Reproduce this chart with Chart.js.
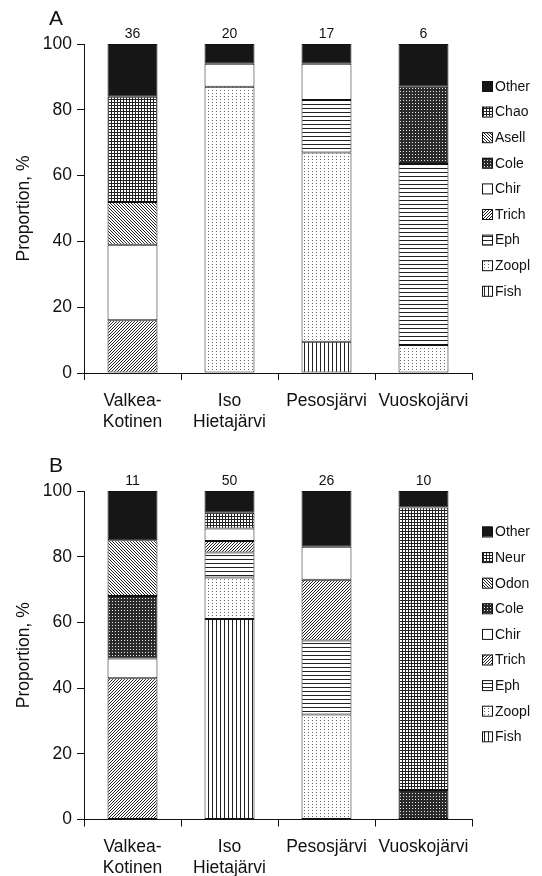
<!DOCTYPE html>
<html>
<head>
<meta charset="utf-8">
<script src="https://cdn.jsdelivr.net/npm/chart.js@4"></script>
<style>
html,body{margin:0;padding:0;background:#fff;}
#wrap{position:relative;width:542px;height:876px;}
canvas{position:absolute;left:0;}
#cA{top:0;}
#cB{top:447px;}
</style>
</head>
<body>
<div id="wrap">
<canvas id="cA" width="542" height="447"></canvas>
<canvas id="cB" width="542" height="429"></canvas>
</div>
<script>
// ---------- DATA ----------
const categoriesA = [["Valkea-","Kotinen"],["Iso","Hietajärvi"],"Pesosjärvi","Vuoskojärvi"];
const categoriesB = [["Valkea-","Kotinen"],["Iso","Hietajärvi"],"Pesosjärvi","Vuoskojärvi"];
const countsA = [36, 20, 17, 6];
const countsB = [11, 50, 26, 10];
const yTicks = [0, 20, 40, 60, 80, 100];

// Panel A (bottom to top of stack)
const seriesNamesA = ["Fish","Zoopl","Eph","Trich","Chir","Cole","Asell","Chao","Other"];
const fishA  = [0, 0, 9.5, 0];
const zooplA = [0, 87, 57.5, 8.5];
const ephA   = [0, 0, 16, 55];
const trichA = [16, 0, 0, 0];
const chirA  = [23, 7, 11, 0];
const coleA  = [0, 0, 0, 23.5];
const asellA = [13, 0, 0, 0];
const chaoA  = [32, 0, 0, 0];
const otherA = [16, 6, 6, 13];

// Panel B (bottom to top of stack)
const seriesNamesB = ["Fish","Zoopl","Eph","Trich","Chir","Cole","Odon","Neur","Other"];
const fishB  = [0, 61, 0, 0];
const zooplB = [0, 12.7, 32, 0];
const ephB   = [0, 7.6, 22.5, 0];
const trichB = [43, 3.5, 18.5, 0];
const chirB  = [6, 3.8, 10, 0];
const coleB  = [19, 0, 0, 9];
const odonB  = [17, 0, 0, 0];
const neurB  = [0, 4.8, 0, 86];
const otherB = [15, 6.6, 17, 5];

// ---------- PATTERNS ----------
function makePattern(w, h, draw, bg) {
  const c = document.createElement('canvas');
  c.width = w; c.height = h;
  const g = c.getContext('2d');
  g.fillStyle = bg || '#fff';
  g.fillRect(0, 0, w, h);
  g.fillStyle = '#222';
  draw(g);
  return g.createPattern(c, 'repeat');
}
const pat = {
  solid: '#161616',
  white: '#ffffff',
  grid: makePattern(3, 3, g => { g.fillRect(0, 0, 3, 1); g.fillRect(0, 0, 1, 3); }),
  back: makePattern(3, 3, g => { for (let i = 0; i < 3; i++) g.fillRect(i, i, 1, 1); }),
  fwd: makePattern(3, 3, g => { for (let i = 0; i < 3; i++) g.fillRect(i, 2 - i, 1, 1); }),
  dark: makePattern(3, 3, g => { g.fillStyle = '#e8e8e8'; g.fillRect(1, 1, 1, 1); }, '#2a2a2a'),
  horiz: makePattern(1, 4, g => { g.fillRect(0, 0, 1, 1); }),
  dots: makePattern(4, 3, g => { g.fillStyle = '#666'; g.fillRect(0, 0, 1, 1); }),
  vert: makePattern(4, 1, g => { g.fillRect(0, 0, 1, 1); })
};
const styleFor = {
  Other: pat.solid, Chao: pat.grid, Neur: pat.grid, Asell: pat.back, Odon: pat.back,
  Cole: pat.dark, Chir: pat.white, Trich: pat.fwd, Eph: pat.horiz, Zoopl: pat.dots, Fish: pat.vert
};

const FONT = '"Liberation Sans", Arial, sans-serif';

// ---------- PLUGIN: counts, legend, panel letter ----------
const decoPlugin = {
  id: 'deco',
  afterDatasetsDraw(chart, args, opts) {
    const ctx = chart.ctx;
    ctx.save();
    // counts above bars
    const last = chart.getDatasetMeta(chart.data.datasets.length - 1);
    ctx.fillStyle = '#111';
    ctx.font = '14px ' + FONT;
    ctx.textAlign = 'center';
    ctx.textBaseline = 'middle';
    const yTop = chart.scales.y.getPixelForValue(100);
    last.data.forEach((el, i) => {
      ctx.fillText(String(opts.counts[i]), el.x, yTop - 10);
    });
    // panel letter
    ctx.font = '21px ' + FONT;
    ctx.fillText(opts.letter, 56, 19);
    // legend
    const ds = chart.data.datasets.slice().reverse();
    ctx.font = '14px ' + FONT;
    ctx.textAlign = 'left';
    ds.forEach((d, i) => {
      const cy = opts.legendTop + i * opts.legendStep;
      ctx.fillStyle = d.backgroundColor;
      ctx.fillRect(482, cy - 5, 10, 10);
      ctx.strokeStyle = '#111';
      ctx.lineWidth = 1;
      ctx.strokeRect(482.5, cy - 4.5, 10, 10);
      ctx.fillStyle = '#111';
      ctx.fillText(d.label, 495, cy + 1);
    });
    ctx.restore();
  }
};

function buildChart(id, categories, names, arrays, counts, letter, H, bottom, legendTop) {
  const datasets = names.map((n, k) => ({
    label: n,
    data: arrays[k].map(v => (v === 0 ? null : v)),
    backgroundColor: styleFor[n],
    borderColor: '#111',
    borderWidth: 1,
    borderSkipped: false,
    barPercentage: 1,
    categoryPercentage: 0.515
  }));
  return new Chart(document.getElementById(id), {
    type: 'bar',
    data: { labels: categories, datasets },
    options: {
      responsive: false,
      animation: false,
      devicePixelRatio: 1,
      layout: { padding: { top: 44, right: 70, left: 0, bottom: 0 } },
      plugins: {
        legend: { display: false },
        tooltip: { enabled: false },
        deco: { counts, letter, legendTop, legendStep: 25.6 }
      },
      scales: {
        x: {
          stacked: true,
          grid: { display: true, drawOnChartArea: false, drawTicks: true, tickLength: 7, color: '#111', offset: true },
          border: { display: true, color: '#111', width: 1 },
          ticks: { color: '#111', font: { family: FONT, size: 17.5, lineHeight: 1.22 }, padding: 10, maxRotation: 0, autoSkip: false },
          afterFit: s => { s.height = H - bottom; }
        },
        y: {
          stacked: true,
          min: 0, max: 100,
          afterBuildTicks: s => { s.ticks = yTicks.map(v => ({ value: v })); },
          grid: { display: true, drawOnChartArea: false, drawTicks: true, tickLength: 7, color: '#111' },
          border: { display: true, color: '#111', width: 1 },
          ticks: { color: '#111', font: { family: FONT, size: 17.5 }, padding: 5 },
          title: { display: true, text: 'Proportion, %', color: '#111', font: { family: FONT, size: 17.5, lineHeight: 1.2 }, padding: { top: 14, bottom: 0 } },
          afterFit: s => { s.width = 84; }
        }
      }
    },
    plugins: [decoPlugin]
  });
}

buildChart('cA', categoriesA, seriesNamesA,
  [fishA, zooplA, ephA, trichA, chirA, coleA, asellA, chaoA, otherA],
  countsA, 'A', 447, 373, 86);
buildChart('cB', categoriesB, seriesNamesB,
  [fishB, zooplB, ephB, trichB, chirB, coleB, odonB, neurB, otherB],
  countsB, 'B', 429, 372.5, 84.5);
</script>
</body>
</html>
